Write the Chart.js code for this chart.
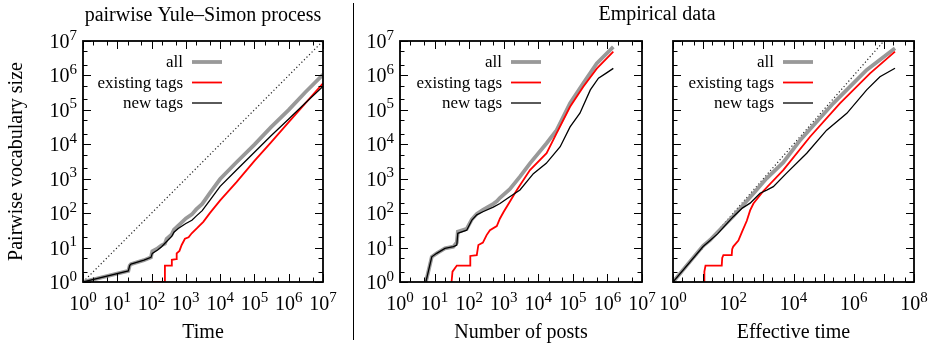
<!DOCTYPE html>
<html>
<head>
<meta charset="utf-8">
<script src="https://cdn.jsdelivr.net/npm/chart.js@4.4.1/dist/chart.umd.min.js"></script>
<style>
  html, body { margin: 0; padding: 0; background: #fff; }
  #wrap { position: relative; width: 932px; height: 348px; }
  #wrap canvas { position: absolute; left: 0; top: 0; }
</style>
</head>
<body>
<div id="wrap">
  <canvas id="c1" width="932" height="348"></canvas>
  <canvas id="c2" width="932" height="348"></canvas>
  <canvas id="c3" width="932" height="348"></canvas>
</div>
<script>
// ---- data ----
// panel 1: pairwise Yule-Simon process (x = time)
const p1DiagX = [1, 1e7];
const p1DiagY = [1, 1e7];
const p1AllX = [1, 21, 23, 25, 60, 96, 100, 105, 150, 196, 245, 275, 386, 450, 600, 1000, 1500, 2000, 3000, 5000, 1e4, 3e4, 1e5, 3e5, 1e6, 3e6, 1e7];
const p1AllY = [1, 2.1, 3, 3.3, 4.3, 5.2, 6.3, 7.8, 9.5, 11.6, 13, 18, 24, 33, 43, 70, 92, 128, 185, 380, 980, 3000, 9800, 31000, 1e5, 320000, 1.05e6];
const p1OldX = [100, 245, 245, 386, 390, 520, 540, 650, 755, 940, 1200, 1480, 2080, 3230, 5000, 1e4, 3e4, 1e5, 3e5, 1e6, 3e6, 1e7];
const p1OldY = [1, 1, 3, 3, 4.4, 4.6, 6.8, 8, 11.9, 18, 20, 26, 36, 56, 100, 234, 800, 3300, 11200, 44000, 151000, 590000];
const p1NewX = [1, 21, 23, 25, 60, 96, 105, 150, 196, 275, 386, 450, 600, 1000, 1500, 2000, 3000, 5000, 1e4, 3e4, 1e5, 3e5, 1e6, 3e6, 1e7];
const p1NewY = [1, 2.1, 3, 3.3, 4.3, 5.2, 6.8, 8.5, 10.6, 15, 21, 28, 36, 50, 62, 82, 118, 235, 600, 1800, 5900, 17500, 54000, 155000, 480000];

// panel 2: empirical data (x = number of posts)
const p2AllX = [5.6, 8.3, 11.5, 20, 35, 44, 47, 85, 120, 166, 250, 500, 630, 780, 1500, 2950, 5750, 17400, 34000, 83000, 200000, 490000, 1480000];
const p2AllY = [1, 5.4, 6.8, 9.5, 10.6, 14, 29, 35, 66, 95, 124, 187, 220, 280, 500, 1150, 2800, 10700, 25700, 155000, 590000, 2240000, 6760000];
const p2OldX = [31, 33, 44, 106, 108, 166, 185, 250, 320, 400, 630, 780, 1000, 1500, 2400, 5750, 17400, 34000, 83000, 200000, 490000, 1480000];
const p2OldY = [1, 2, 3, 3, 5.7, 6, 11.9, 14, 23, 32, 42, 70, 110, 215, 470, 1780, 5500, 21000, 123000, 470000, 1580000, 4900000];
const p2NewX = [5.6, 8.3, 11.5, 20, 35, 44, 47, 85, 120, 166, 250, 500, 780, 1500, 2950, 7200, 17000, 43000, 83000, 160000, 320000, 550000, 900000, 1480000];
const p2NewY = [1, 5.4, 6.8, 9.5, 10.6, 11.9, 26, 32, 63, 89, 110, 150, 190, 300, 470, 1400, 2800, 8500, 32000, 80000, 380000, 830000, 1150000, 1600000];

// panel 3: empirical data (x = effective time)
const p3DiagX = [1, 1e7];
const p3DiagY = [1, 1e7];
const p3AllX = [1, 10, 17, 30, 100, 166, 300, 500, 1000, 1290, 4570, 16600, 209000, 2690000, 23400000];
const p3AllY = [1, 11.2, 16.5, 28, 82, 135, 240, 400, 800, 1030, 2980, 13200, 155000, 1450000, 6170000];
const p3OldX = [10.7, 11, 12, 41.5, 43, 47, 89, 92, 100, 148, 200, 282, 363, 468, 1000, 4570, 35500, 347000, 3470000, 23400000];
const p3OldY = [1, 2, 3, 3, 5, 6, 6, 9, 10.7, 16, 30, 60, 120, 190, 440, 1780, 16600, 155000, 1150000, 4900000];
const p3NewX = [1, 10, 17, 30, 100, 200, 363, 776, 1290, 2140, 5890, 27500, 126000, 589000, 2690000, 7400000, 23400000];
const p3NewY = [1, 10.7, 16, 25, 79, 140, 195, 380, 468, 590, 1450, 5500, 25700, 79400, 380000, 912000, 1620000];

// tick label exponents
const yTickExp = [0, 1, 2, 3, 4, 5, 6, 7];
const p1XTickExp = [0, 1, 2, 3, 4, 5, 6, 7];
const p2XTickExp = [0, 1, 2, 3, 4, 5, 6, 7];
const p3XTickExp = [0, 2, 4, 6, 8];

const seriesLabels = ['all', 'existing tags', 'new tags'];

// ---- drawing helpers ----
const FONT = '"Liberation Serif", "Times New Roman", serif';

function pts(xs, ys) {
  return xs.map((x, i) => ({ x: x, y: ys[i] }));
}

// I draw "10" with a raised exponent; y is the baseline of "10"
function drawPow(ctx, exp, x, y, align) {
  ctx.font = '20px ' + FONT;
  const wb = ctx.measureText('10').width;
  ctx.font = '15px ' + FONT;
  const we = ctx.measureText(String(exp)).width;
  const total = wb + we;
  const x0 = align === 'right' ? x - total : x - total / 2;
  ctx.textAlign = 'left';
  ctx.textBaseline = 'alphabetic';
  ctx.font = '20px ' + FONT;
  ctx.fillText('10', x0, y);
  ctx.font = '15px ' + FONT;
  ctx.fillText(String(exp), x0 + wb, y - 8.5);
}

// I draw a gnuplot-like frame, inward ticks on all four sides, labels and legend
const gnuFrame = {
  id: 'gnuFrame',
  afterDatasetsDraw(chart, args, opts) {
    const ctx = chart.ctx;
    const a = chart.chartArea;
    const xs = chart.scales.x;
    const ys = chart.scales.y;
    ctx.save();
    ctx.fillStyle = '#000';
    ctx.strokeStyle = '#000';

    // ticks: major at every decade, minor at 2 and 5
    ctx.lineWidth = 1;
    const tickSet = (scale) => {
      const out = [];
      const lo = Math.round(Math.log10(scale.min));
      const hi = Math.round(Math.log10(scale.max));
      for (let d = lo; d <= hi; d++) {
        out.push({ v: Math.pow(10, d), major: true });
        if (d < hi) {
          out.push({ v: 2 * Math.pow(10, d), major: false });
          out.push({ v: 5 * Math.pow(10, d), major: false });
        }
      }
      return out;
    };
    ctx.beginPath();
    tickSet(xs).forEach(t => {
      const px = Math.round(xs.getPixelForValue(t.v)) + 0.5;
      const len = t.major ? 8 : 4.5;
      ctx.moveTo(px, a.bottom); ctx.lineTo(px, a.bottom - len);
      ctx.moveTo(px, a.top); ctx.lineTo(px, a.top + len);
    });
    tickSet(ys).forEach(t => {
      const py = Math.round(ys.getPixelForValue(t.v)) + 0.5;
      const len = t.major ? 8 : 4.5;
      ctx.moveTo(a.left, py); ctx.lineTo(a.left + len, py);
      ctx.moveTo(a.right, py); ctx.lineTo(a.right - len, py);
    });
    ctx.stroke();

    // frame
    ctx.lineWidth = 1.8;
    ctx.strokeRect(a.left, a.top, a.right - a.left, a.bottom - a.top);

    // tick labels
    opts.xTicks.forEach(e => {
      drawPow(ctx, e, xs.getPixelForValue(Math.pow(10, e)), a.bottom + 28, 'center');
    });
    opts.yTicks.forEach(e => {
      drawPow(ctx, e, a.left - 6, ys.getPixelForValue(Math.pow(10, e)) + 7, 'right');
    });

    // axis titles
    ctx.font = '20px ' + FONT;
    ctx.textAlign = 'center';
    ctx.textBaseline = 'alphabetic';
    ctx.fillText(opts.xTitle, (a.left + a.right) / 2, 338);
    if (opts.yTitle) {
      ctx.save();
      ctx.translate(22, (a.top + a.bottom) / 2);
      ctx.rotate(-Math.PI / 2);
      ctx.fillText(opts.yTitle, 0, 0);
      ctx.restore();
    }
    if (opts.title) {
      ctx.fillText(opts.title.text, opts.title.x, opts.title.y);
    }
    if (opts.divider) {
      ctx.lineWidth = 1;
      ctx.beginPath();
      ctx.moveTo(opts.divider, 3);
      ctx.lineTo(opts.divider, 340);
      ctx.stroke();
    }

    // legend (inside, top right)
    ctx.font = '17px ' + FONT;
    ctx.textAlign = 'right';
    chart.data.datasets.filter(d => d.inLegend).forEach((d, i) => {
      const ly = a.top + 21 + i * 20.5;
      ctx.fillStyle = '#000';
      ctx.fillText(d.label, a.right - 140, ly + 5);
      ctx.strokeStyle = d.borderColor;
      ctx.lineWidth = d.borderWidth;
      ctx.beginPath();
      ctx.moveTo(a.right - 131, ly);
      ctx.lineTo(a.right - 101, ly);
      ctx.stroke();
    });
    ctx.restore();
  }
};

function seriesSet(allX, allY, oldX, oldY, newX, newY, diagX, diagY) {
  const sets = [
    { label: seriesLabels[0], inLegend: true, data: pts(allX, allY), borderColor: '#999999', borderWidth: 3.8, order: 2 },
    { label: seriesLabels[1], inLegend: true, data: pts(oldX, oldY), borderColor: '#ff0000', borderWidth: 1.8, order: 1 },
    { label: seriesLabels[2], inLegend: true, data: pts(newX, newY), borderColor: '#000000', borderWidth: 1.3, order: 0 }
  ];
  if (diagX) {
    sets.push({ label: 'y = x', inLegend: false, data: pts(diagX, diagY), borderColor: '#222222', borderWidth: 1.2, borderDash: [1.2, 2.4], order: 3 });
  }
  sets.forEach(s => { s.pointRadius = 0; s.tension = 0; s.fill = false; });
  return sets;
}

function makeChart(id, left, right, xMax, datasets, frameOpts) {
  return new Chart(document.getElementById(id), {
    type: 'line',
    data: { datasets: datasets },
    options: {
      responsive: false,
      animation: false,
      devicePixelRatio: 1,
      layout: { padding: { left: left, right: 932 - right, top: 41, bottom: 348 - 282 } },
      scales: {
        x: { type: 'logarithmic', min: 1, max: xMax, display: false },
        y: { type: 'logarithmic', min: 1, max: 1e7, display: false }
      },
      plugins: {
        legend: { display: false },
        tooltip: { enabled: false },
        gnuFrame: frameOpts
      }
    },
    plugins: [gnuFrame]
  });
}

makeChart('c1', 83, 323, 1e7,
  seriesSet(p1AllX, p1AllY, p1OldX, p1OldY, p1NewX, p1NewY, p1DiagX, p1DiagY),
  { xTicks: p1XTickExp, yTicks: yTickExp, xTitle: 'Time', yTitle: 'Pairwise vocabulary size',
    title: { text: 'pairwise Yule\u2013Simon process', x: 203, y: 21 } });

makeChart('c2', 400, 642, 1e7,
  seriesSet(p2AllX, p2AllY, p2OldX, p2OldY, p2NewX, p2NewY),
  { xTicks: p2XTickExp, yTicks: yTickExp, xTitle: 'Number of posts',
    title: { text: 'Empirical data', x: 657, y: 20 }, divider: 353.5 });

makeChart('c3', 673, 914, 1e8,
  seriesSet(p3AllX, p3AllY, p3OldX, p3OldY, p3NewX, p3NewY, p3DiagX, p3DiagY),
  { xTicks: p3XTickExp, yTicks: [], xTitle: 'Effective time' });
</script>
</body>
</html>
